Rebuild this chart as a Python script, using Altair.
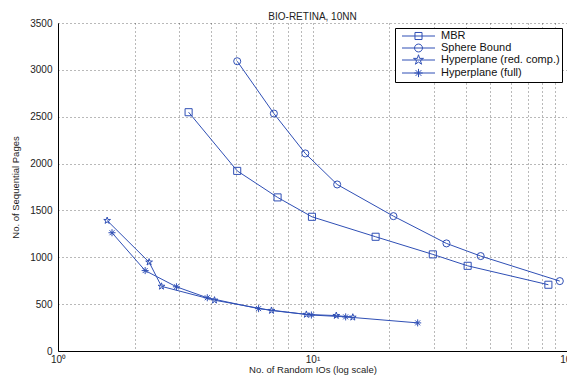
import altair as alt
import pandas as pd
import re

series_names = ["MBR", "Sphere Bound", "Hyperplane (red. comp.)", "Hyperplane (full)"]

mbr_x = [3.26, 5.06, 7.29, 9.95, 17.7, 29.7, 40.7, 84.5]
mbr_y = [2548, 1922, 1639, 1432, 1219, 1031, 909, 707]
sph_x = [5.06, 7.05, 9.37, 12.5, 20.8, 33.6, 45.8, 93.7]
sph_y = [3092, 2534, 2108, 1777, 1439, 1148, 1013, 746]
red_x = [1.56, 2.28, 2.55, 4.12, 6.9, 9.46, 12.4, 14.4]
red_y = [1392, 948, 690, 542, 432, 390, 378, 360]
full_x = [1.63, 2.2, 2.92, 3.86, 6.14, 9.9, 13.5, 25.9]
full_y = [1262, 858, 685, 568, 452, 384, 364, 300]

x_ticks = [1, 2, 3, 4, 5, 6, 7, 8, 9, 10, 20, 30, 40, 50, 60, 70, 80, 90, 100]
y_ticks = [0, 500, 1000, 1500, 2000, 2500, 3000, 3500]

rows = []
for name, xs, ys in zip(series_names, [mbr_x, sph_x, red_x, full_x], [mbr_y, sph_y, red_y, full_y]):
    for i, (a, b) in enumerate(zip(xs, ys)):
        rows.append({"series": name, "x": a, "y": b, "i": i, "leg": name})
df = pd.DataFrame(rows)

BLUE = "#2f4fb5"
FONT = "Liberation Sans"

star = "M0,-1L0.2245,-0.309L0.951,-0.309L0.3633,0.118L0.588,0.809L0,0.382L-0.588,0.809L-0.3633,0.118L-0.951,-0.309L-0.2245,-0.309Z"
aster = "M0,-1V1M-1,0H1M-0.7,-0.7L0.7,0.7M-0.7,0.7L0.7,-0.7"
marker_shapes = ["square", "circle", star, aster]


def scaled(path, k):
    return re.sub(r"-?\d+\.?\d*", lambda m: f"{float(m.group(0))*k:.4f}", path)


line_part = "M-3,0H3"
leg_shapes = [
    line_part + "M-0.64,-0.64H0.64V0.64H-0.64Z",
    line_part + "M-0.72,0A0.72,0.72 0 1,0 0.72,0A0.72,0.72 0 1,0 -0.72,0",
    line_part + scaled(star, 0.95),
    line_part + scaled(aster, 0.75),
]

xscale = alt.Scale(type="log", domain=[1, 100], nice=False)
yscale = alt.Scale(domain=[0, 3500], nice=False)

xaxis = alt.Axis(
    values=x_ticks,
    labelExpr="datum.value == 1 ? '10⁰' : datum.value == 10 ? '10¹' : datum.value == 100 ? '10²' : ''",
    title="No. of Random IOs (log scale)",
    grid=True, ticks=False, domainColor="#000", domainWidth=1,
    labelFont=FONT, labelFontSize=10, labelColor="#222", labelPadding=3,
    labelFlush=False, labelOverlap=False,
    titleFont=FONT, titleFontSize=9.5, titleFontWeight="normal", titleColor="#222",
    titleX=254.5, titleY=18.5, titleBaseline="middle",
    gridColor="#000", gridOpacity=0.55, gridDash=[1, 3], gridWidth=1,
)
yaxis = alt.Axis(
    values=y_ticks, format="d",
    title="No. of Sequential Pages",
    grid=True, ticks=False, domainColor="#000", domainWidth=1,
    labelFont=FONT, labelFontSize=10, labelColor="#222", labelPadding=6,
    titleFont=FONT, titleFontSize=9.5, titleFontWeight="normal", titleColor="#222",
    titleX=-43, titleY=164, titleBaseline="middle", titleAlign="center",
    gridColor="#000", gridOpacity=0.55, gridDash=[1, 3], gridWidth=1,
)

base = alt.Chart(df)

lines = base.mark_line(color=BLUE, strokeWidth=1).encode(
    x=alt.X("x:Q", scale=xscale, axis=xaxis),
    y=alt.Y("y:Q", scale=yscale, axis=yaxis),
    detail="series:N",
    order="i:Q",
)

points = base.mark_point(filled=False, color=BLUE, strokeWidth=1, size=50, opacity=1).encode(
    x=alt.X("x:Q", scale=xscale),
    y=alt.Y("y:Q", scale=yscale),
    shape=alt.Shape("series:N", scale=alt.Scale(domain=series_names, range=marker_shapes), legend=None),
)

legend_layer = base.mark_point(filled=False, color=BLUE, opacity=0).encode(
    x=alt.X("x:Q", scale=xscale),
    y=alt.Y("y:Q", scale=yscale),
    shape=alt.Shape(
        "leg:N",
        scale=alt.Scale(domain=series_names, range=leg_shapes),
        legend=alt.Legend(
            title=None, orient="none", legendX=337, legendY=5,
            padding=2, strokeColor="#000", fillColor="#fff",
            symbolSize=121, symbolStrokeColor=BLUE, symbolStrokeWidth=1,
            symbolFillColor="transparent", symbolOpacity=1,
            symbolOffset=15.5, labelOffset=16.5, rowPadding=-2,
            labelFont=FONT, labelFontSize=11, labelColor="#111",
            labelLimit=300,
        ),
    ),
)

chart = alt.layer(lines, points, legend_layer).resolve_scale(shape="independent").properties(
    width=509, height=328,
    autosize=alt.AutoSizeParams(type="none"),
    padding={"left": 50, "top": 15, "right": 0, "bottom": 24},
    title=alt.Title("BIO-RETINA, 10NN", font=FONT, fontSize=10, fontWeight="normal",
                    color="#222", anchor="middle", offset=1, dy=5),
    background="white",
).configure_view(stroke=None)

chart.save("out.html", embed_options={"renderer": "svg", "actions": False})
